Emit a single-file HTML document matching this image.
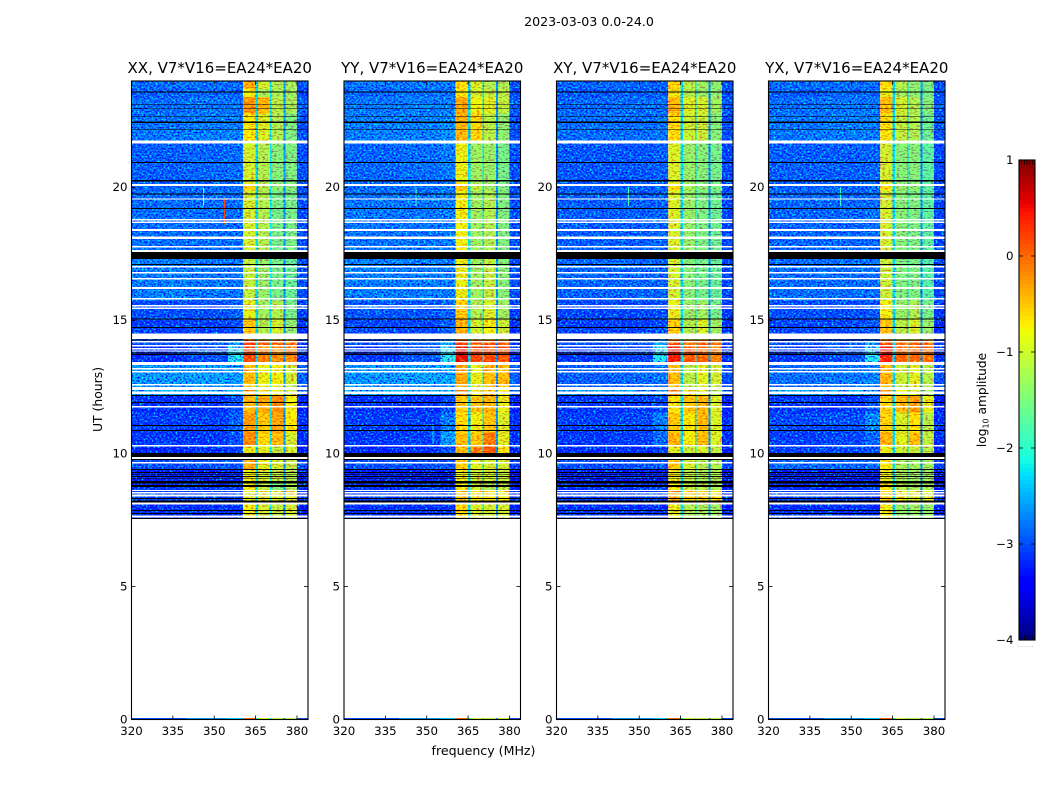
<!DOCTYPE html>
<html lang="en">
<head>
<meta charset="utf-8">
<title>2023-03-03 0.0-24.0</title>
<style>
html,body{margin:0;padding:0;background:#fff;width:1050px;height:800px;overflow:hidden}
svg{display:block}
text{font-family:"DejaVu Sans","Liberation Sans",sans-serif;fill:#000}
</style>
</head>
<body>
<svg id="chart" xmlns="http://www.w3.org/2000/svg" width="1050" height="800" viewBox="0 0 1050 800">
  <defs>
    <filter id="speckle" x="0" y="0" width="100%" height="100%" color-interpolation-filters="sRGB">
      <feTurbulence type="fractalNoise" baseFrequency="0.5 0.62" numOctaves="1" seed="7"/>
      <feColorMatrix type="matrix" values="0 0 0 0 0.5  1.8 0 0 0 -0.45  0 0 0 0 0.78  0 0 0 0 1"/>
    </filter>
    <filter id="speckle-soft" x="0" y="0" width="100%" height="100%" color-interpolation-filters="sRGB">
      <feTurbulence type="fractalNoise" baseFrequency="0.35 0.7" numOctaves="1" seed="11"/>
      <feColorMatrix type="matrix" values="0 0 0 0 0.5  1.1 0 0 0 -0.05  0 0 0 0 0.5  0 0 0 0 1"/>
    </filter>
  </defs>
  <rect width="1050" height="800" fill="#fff"/>
  <text x="589" y="26" font-size="12.6" text-anchor="middle">2023-03-03 0.0-24.0</text>
  <text x="483.5" y="755" font-size="12.6" text-anchor="middle">frequency (MHz)</text>
  <text transform="translate(102,399.5) rotate(-90)" font-size="12.4" text-anchor="middle">UT (hours)</text>
  <text transform="translate(986,400) rotate(-90)" font-size="12.2" text-anchor="middle">log<tspan dy="2.5" font-size="8">10</tspan><tspan dy="-2.5"> amplitude</tspan></text>
  <g id="panels"></g>
  <g id="colorbar"></g>
</svg>
<script>
// Axis tick labels
const freqTicks = [320, 335, 350, 365, 380];
const hourTicks = [0, 5, 10, 15, 20];
const levelTicks = [1, 0, -1, -2, -3, -4];
const panelTitles = ['XX, V7*V16=EA24*EA20', 'YY, V7*V16=EA24*EA20', 'XY, V7*V16=EA24*EA20', 'YX, V7*V16=EA24*EA20'];

// Frequency column edges (MHz)
const freqEdges = [320, 340, 355, 360.5, 365, 365.8, 370.2, 370.8, 375.2, 375.8, 380, 384];
// Time-segment edges (UT hours)
const hourEdges = [24, 23.7, 23.4, 22.77, 21.68, 20.14, 19.88, 17.62, 15.75, 15.07, 14.28, 14.06, 13.42, 12.6, 12.4, 12.18, 11.54, 10.79, 10.3, 10, 9.37, 8.95, 8.61, 8.24, 7.56];
// Levels in the narrow gaps between sub-bands (log10 amplitude)
const gapLevels = [-2.25, -2.2, -2.65];

// log10 amplitude per time segment: [320-340, 340-355, 355-360, band1, band2, band3, band4, 380-384]
const xxLevels = [
[-2.8,-2.8,-2.8,-0.4,-1.0,-1.2,-1.25,-3.0],
[-2.9,-2.85,-2.85,-0.8,-1.25,-1.25,-1.3,-3.0],
[-2.8,-2.75,-2.75,-0.25,-0.45,-1.15,-1.25,-2.9],
[-2.75,-2.7,-2.7,-0.75,-0.95,-1.2,-1.5,-3.0],
[-2.9,-2.85,-2.8,-1.0,-1.2,-1.45,-1.5,-3.0],
[-2.85,-2.8,-2.8,-0.6,-1.15,-1.4,-1.45,-3.0],
[-2.8,-2.8,-2.8,-1.0,-1.2,-1.55,-1.55,-3.0],
[-2.7,-2.75,-2.75,-1.1,-1.35,-1.55,-1.65,-3.0],
[-3.0,-3.0,-2.9,-0.9,-1.3,-1.2,-1.55,-3.1],
[-3.1,-3.1,-3.0,-0.55,-1.2,-1.0,-1.4,-3.2],
[-3.0,-2.9,-2.5,0.25,0.1,0.1,0.0,-3.1],
[-3.2,-3.0,-2.1,0.2,-0.1,-0.2,-0.2,-3.2],
[-2.55,-2.5,-2.5,-0.5,-0.85,-0.8,-1.0,-2.9],
[-2.6,-2.6,-2.6,-0.6,-0.9,-0.9,-1.1,-2.9],
[-2.4,-2.4,-2.4,-0.3,-0.7,-0.8,-1.0,-2.9],
[-3.2,-3.2,-3.0,-0.5,-0.35,-0.2,-0.8,-3.3],
[-3.1,-3.1,-2.9,-0.3,-0.55,-0.35,-0.75,-3.2],
[-3.15,-3.15,-3.0,-0.2,-0.65,-0.5,-1.0,-3.2],
[-3.25,-3.2,-3.1,-0.85,-0.9,-1.1,-1.0,-3.3],
[-3.0,-3.0,-2.95,-0.4,-0.9,-1.0,-1.1,-3.1],
[-3.3,-3.3,-3.3,-0.8,-1.0,-1.1,-1.2,-3.4],
[-3.2,-3.1,-3.1,-0.8,-1.1,-1.5,-1.2,-3.3],
[-3.1,-3.1,-3.1,-0.9,-0.9,-0.9,-0.9,-3.2],
[-3.2,-3.2,-3.2,-0.8,-1.0,-1.1,-1.0,-3.3]
];
const yyLevels = [
[-2.75,-2.75,-2.75,-0.7,-0.95,-1.2,-1.2,-3.0],
[-2.85,-2.8,-2.8,-0.75,-1.0,-1.1,-1.15,-3.0],
[-2.75,-2.7,-2.7,-0.35,-0.8,-0.9,-1.1,-2.9],
[-2.7,-2.7,-2.6,-0.45,-0.65,-1.15,-1.4,-3.0],
[-2.85,-2.8,-2.7,-0.85,-1.3,-1.35,-1.55,-3.0],
[-2.8,-2.8,-2.7,-0.55,-1.1,-1.3,-1.5,-3.0],
[-2.75,-2.75,-2.7,-0.8,-1.3,-1.2,-1.5,-3.0],
[-2.7,-2.7,-2.7,-0.85,-1.3,-1.1,-1.45,-3.0],
[-2.95,-2.95,-2.85,-0.6,-1.2,-0.95,-1.3,-3.1],
[-3.05,-3.05,-2.9,-0.4,-1.0,-0.8,-1.05,-3.2],
[-3.0,-2.85,-2.4,0.35,0.1,0.15,0.1,-3.1],
[-3.15,-2.95,-2.0,0.55,0.25,0.25,0.15,-3.2],
[-2.55,-2.5,-2.45,-0.35,-0.85,-0.5,-0.5,-2.9],
[-2.6,-2.6,-2.6,-0.5,-0.9,-0.6,-0.6,-2.9],
[-2.4,-2.4,-2.4,-0.2,-0.7,-0.6,-0.8,-2.9],
[-3.2,-3.2,-3.05,-0.6,-0.55,-0.45,-0.85,-3.3],
[-3.1,-3.1,-2.7,-0.7,-0.8,-0.55,-0.95,-3.2],
[-3.15,-3.1,-2.5,-0.5,-0.55,-0.1,-0.9,-3.2],
[-3.25,-3.2,-3.0,-0.5,-0.1,0.15,-0.75,-3.3],
[-3.0,-3.0,-2.95,-0.6,-0.9,-1.0,-1.0,-3.1],
[-3.3,-3.3,-3.3,-0.8,-1.0,-1.0,-1.05,-3.4],
[-3.2,-3.1,-3.1,-0.8,-1.0,-1.2,-1.1,-3.3],
[-3.1,-3.1,-3.1,-0.6,-0.7,-0.7,-0.75,-3.2],
[-3.2,-3.2,-3.2,-0.7,-0.95,-1.0,-1.0,-3.3]
];
const xyLevels = [
[-2.85,-2.85,-2.85,-0.65,-1.15,-1.3,-1.4,-3.0],
[-2.95,-2.9,-2.9,-0.8,-1.2,-1.35,-1.4,-3.0],
[-2.85,-2.8,-2.8,-0.45,-0.95,-1.0,-1.3,-2.95],
[-2.8,-2.8,-2.75,-0.7,-1.05,-1.05,-1.45,-3.0],
[-2.95,-2.95,-2.9,-0.95,-1.35,-1.45,-1.55,-3.05],
[-2.9,-2.9,-2.85,-0.7,-1.25,-1.4,-1.5,-3.05],
[-2.9,-2.9,-2.85,-0.95,-1.35,-1.5,-1.6,-3.05],
[-2.85,-2.85,-2.85,-1.0,-1.45,-1.55,-1.65,-3.05],
[-3.05,-3.05,-3.0,-0.85,-1.35,-1.3,-1.55,-3.15],
[-3.1,-3.1,-3.0,-0.6,-1.2,-0.95,-1.3,-3.2],
[-3.0,-2.95,-2.5,0.15,-0.1,0.05,-0.05,-3.1],
[-3.15,-3.05,-2.1,0.5,0.1,0.05,-0.15,-3.2],
[-2.9,-2.85,-2.75,-0.5,-1.15,-0.9,-1.0,-3.0],
[-2.9,-2.9,-2.85,-0.6,-1.1,-0.9,-1.1,-3.0],
[-2.55,-2.55,-2.55,-0.1,-0.7,-0.85,-1.2,-3.0],
[-3.15,-3.15,-3.05,-0.75,-0.55,-0.45,-0.95,-3.3],
[-3.1,-3.05,-2.7,-0.6,-0.75,-0.5,-0.95,-3.2],
[-3.15,-3.1,-2.8,-0.45,-0.8,-0.5,-0.95,-3.2],
[-3.2,-3.2,-3.1,-0.9,-1.05,-0.95,-1.1,-3.3],
[-3.0,-3.0,-2.95,-0.55,-1.0,-1.2,-1.2,-3.1],
[-3.3,-3.3,-3.3,-0.85,-1.1,-1.2,-1.2,-3.4],
[-3.2,-3.15,-3.1,-0.8,-1.05,-1.1,-1.2,-3.3],
[-3.15,-3.15,-3.1,-0.4,-0.65,-0.6,-0.7,-3.2],
[-3.2,-3.2,-3.2,-0.85,-1.2,-1.25,-1.3,-3.3]
];
const yxLevels = [
[-2.8,-2.8,-2.8,-0.7,-1.2,-1.4,-1.5,-3.0],
[-2.9,-2.85,-2.85,-0.85,-1.3,-1.4,-1.55,-3.0],
[-2.8,-2.75,-2.75,-0.5,-1.0,-1.2,-1.45,-2.95],
[-2.75,-2.7,-2.7,-0.75,-1.1,-1.2,-1.6,-3.0],
[-2.9,-2.9,-2.85,-1.0,-1.45,-1.45,-1.7,-3.05],
[-2.85,-2.85,-2.8,-0.75,-1.35,-1.4,-1.7,-3.05],
[-2.85,-2.85,-2.8,-1.0,-1.45,-1.5,-1.7,-3.05],
[-2.8,-2.8,-2.8,-1.05,-1.5,-1.5,-1.75,-3.05],
[-3.0,-3.0,-2.95,-0.8,-1.35,-1.2,-1.55,-3.15],
[-3.05,-3.05,-2.95,-0.55,-1.15,-0.95,-1.35,-3.2],
[-3.0,-2.9,-2.5,0.2,0.0,0.05,0.0,-3.1],
[-3.15,-3.0,-2.05,0.45,0.05,0.0,-0.05,-3.2],
[-2.8,-2.75,-2.65,-0.45,-1.05,-0.9,-1.15,-3.0],
[-2.85,-2.85,-2.8,-0.6,-1.1,-0.95,-1.2,-3.0],
[-2.5,-2.5,-2.5,-0.3,-0.8,-0.9,-1.3,-3.0],
[-3.15,-3.15,-3.0,-0.65,-0.5,-0.3,-0.85,-3.3],
[-3.05,-3.0,-2.6,-0.65,-0.95,-0.7,-1.15,-3.2],
[-3.1,-3.05,-2.85,-0.45,-0.9,-0.5,-1.1,-3.2],
[-3.1,-3.05,-3.0,-0.85,-1.05,-1.05,-1.15,-3.3],
[-2.85,-2.85,-2.85,-0.75,-1.25,-1.3,-1.3,-3.1],
[-3.3,-3.3,-3.3,-0.85,-1.25,-1.3,-1.3,-3.4],
[-3.2,-3.15,-3.1,-0.75,-1.15,-1.25,-1.25,-3.3],
[-3.1,-3.1,-3.1,-0.6,-0.8,-0.85,-0.9,-3.2],
[-3.2,-3.2,-3.2,-0.8,-1.35,-1.3,-1.35,-3.3]
];
const panelLevels = [xxLevels, yyLevels, xyLevels, yxLevels];

// Thin strip of data at UT 0, same column order
const baselineLevels = [-3.0, -2.6, -2.4, 0.0, -1.0, -1.1, -1.1, -3.0];
const baselineHours = [0.05, 0];

// Flagged integrations (UT hours), blank in the image
const blankStart = [21.77,20.12,19.59,18.81,18.71,18.43,18.15,17.79,17.64,17.04,16.82,16.59,16.25,15.84,15.58,15.48,14.5,14.23,14.08,13.96,13.87,13.44,13.21,13.1,12.61,12.5,12.33,11.79,10.32,9.87,9.68,8.63,8.56,8.45,8.15,7.66];
const blankEnd = [21.66,20.06,19.54,18.75,18.67,18.37,18.07,17.74,17.57,16.99,16.76,16.53,16.18,15.78,15.52,15.43,14.31,14.17,14.02,13.91,13.83,13.33,13.16,13.04,12.56,12.39,12.24,11.73,10.27,9.8,9.63,8.58,8.5,8.39,8.09,7.6];
// Zero-amplitude integrations (UT hours), drawn black
const blackStart = [23.61,23.12,22.97,22.67,22.47,22.18,20.95,20.27,19.78,19.22,17.57,17.12,15.07,14.75,14.28,13.8,13.74,12.2,11.94,11.07,10.89,10.02,9.8,9.42,9.31,9.23,9.16,9.08,8.97,8.82,8.33,8.24,7.88,7.77,7.58];
const blackEnd = [23.57,23.09,22.94,22.64,22.43,22.15,20.91,20.23,19.74,19.18,17.3,17.08,15.03,14.71,14.25,13.76,13.7,12.16,11.9,11.04,10.85,9.87,9.76,9.38,9.27,9.2,9.12,9.05,8.88,8.73,8.28,8.16,7.84,7.73,7.54];

// Narrow-band interference spikes: panel index, MHz, start hour, end hour, level
const spikePanel = [0, 0, 1, 1, 2, 3];
const spikeFreq = [346, 353.6, 352, 346, 346, 346];
const spikeStart = [20.0, 19.6, 11.1, 20.0, 20.0, 20.0];
const spikeEnd = [19.3, 18.6, 10.35, 19.3, 19.3, 19.3];
const spikeLevel = [-1.3, 0.2, -2.2, -1.9, -1.8, -2.0];

const panelLefts = [131.5, 344, 556.5, 768.5];
const PANEL_W = 176.5, PANEL_TOP = 81, PANEL_BOTTOM = 719.5;
const NS = 'http://www.w3.org/2000/svg';

function xScale(mhz, left) { return left + (mhz - 320) / 64 * PANEL_W; }
function yScale(hour) { return PANEL_BOTTOM - hour / 24 * (PANEL_BOTTOM - PANEL_TOP); }
function ramp(t, pts) {
  for (let i = 1; i < pts.length; i++) {
    if (t <= pts[i][0]) {
      const a = pts[i - 1], b = pts[i];
      return a[1] + (b[1] - a[1]) * (t - a[0]) / (b[0] - a[0]);
    }
  }
  return pts[pts.length - 1][1];
}
const jetR = [[0,0],[0.35,0],[0.66,1],[0.89,1],[1,0.5]];
const jetG = [[0,0],[0.125,0],[0.375,1],[0.64,1],[0.91,0],[1,0]];
const jetB = [[0,0.5],[0.11,1],[0.34,1],[0.65,0],[1,0]];
function jet(t) {
  t = Math.max(0, Math.min(1, t));
  return 'rgb(' + Math.round(255 * ramp(t, jetR)) + ',' + Math.round(255 * ramp(t, jetG)) + ',' + Math.round(255 * ramp(t, jetB)) + ')';
}
function levelColor(v) { return jet((v + 4) / 5); }
function make(tag, attrs, parent) {
  const el = document.createElementNS(NS, tag);
  for (const k in attrs) el.setAttribute(k, attrs[k]);
  parent.appendChild(el);
  return el;
}
function columnLevels(row) {
  return [row[0], row[1], row[2], row[3], gapLevels[0], row[4], gapLevels[1], row[5], gapLevels[2], row[6], row[7]];
}

const panelsRoot = document.getElementById('panels');
panelTitles.forEach(function (title, p) {
  const left = panelLefts[p];
  const g = make('g', {}, panelsRoot);
  
  

  const heat = make('g', { 'shape-rendering': 'crispEdges' }, g);
  
  

  function drawRow(levels, hi, lo) {
    columnLevels(levels).forEach(function (v, c) {
      const x0 = xScale(freqEdges[c], left), x1 = xScale(freqEdges[c + 1], left);
      const y0 = yScale(hi), y1 = yScale(lo);
      const cell = make('rect', { x: x0, y: y0, width: x1 - x0, height: y1 - y0, fill: levelColor(v) }, heat);
      
      
    });
  }
  panelLevels[p].forEach(function (row, r) { drawRow(row, hourEdges[r], hourEdges[r + 1]); });
  drawRow(baselineLevels, baselineHours[0], baselineHours[1]);

  // Channel-to-channel speckle texture laid over the blocks
  const dataTop = yScale(hourEdges[0]);
  const dataHeight = yScale(hourEdges[hourEdges.length - 1]) - dataTop;
  function addTexture(f0, f1, filterId) {
    const x0 = xScale(f0, left), x1 = xScale(f1, left);
    const texture = make('rect', { x: x0, y: dataTop, width: x1 - x0, height: dataHeight, fill: '#000', filter: 'url(#' + filterId + ')', style: 'mix-blend-mode:hard-light' }, heat);
    
    
  }
  addTexture(freqEdges[0], freqEdges[3], 'speckle');
  addTexture(freqEdges[3], freqEdges[10], 'speckle-soft');
  addTexture(freqEdges[10], freqEdges[11], 'speckle');

  spikePanel.forEach(function (sp, i) {
    if (sp !== p) return;
    const spike = make('rect', { x: xScale(spikeFreq[i], left), y: yScale(spikeStart[i]), width: 1, height: yScale(spikeEnd[i]) - yScale(spikeStart[i]), fill: levelColor(spikeLevel[i]) }, heat);
    
    
  });

  blankStart.forEach(function (h, i) {
    const band = make('rect', { x: left, y: yScale(h), width: PANEL_W, height: yScale(blankEnd[i]) - yScale(h), fill: '#fff' }, heat);
    
    
  });
  blackStart.forEach(function (h, i) {
    const band = make('rect', { x: left, y: yScale(h), width: PANEL_W, height: yScale(blackEnd[i]) - yScale(h), fill: '#000' }, heat);
    
    
  });

  const frame = make('rect', { x: left, y: PANEL_TOP, width: PANEL_W, height: PANEL_BOTTOM - PANEL_TOP, fill: 'none', stroke: '#000', 'stroke-width': 1.1 }, g);
  
  

  const heading = make('text', { x: left + PANEL_W / 2, y: 73, 'font-size': 15, 'text-anchor': 'middle' }, g);
  heading.textContent = title;
  
  

  freqTicks.forEach(function (f) {
    const x = xScale(f, left);
    const tickB = make('line', { x1: x, x2: x, y1: PANEL_BOTTOM, y2: PANEL_BOTTOM - 4, stroke: '#000', 'stroke-width': 0.8 }, g);
    
    
    const tickT = make('line', { x1: x, x2: x, y1: PANEL_TOP, y2: PANEL_TOP + 4, stroke: '#000', 'stroke-width': 0.8 }, g);
    
    
    const label = make('text', { x: x, y: 735, 'font-size': 11.8, 'text-anchor': 'middle' }, g);
    label.textContent = String(f);
    
    
  });
  hourTicks.forEach(function (h) {
    const y = yScale(h);
    const tickL = make('line', { x1: left, x2: left + 4, y1: y, y2: y, stroke: '#000', 'stroke-width': 0.8 }, g);
    
    
    const tickR = make('line', { x1: left + PANEL_W, x2: left + PANEL_W - 4, y1: y, y2: y, stroke: '#000', 'stroke-width': 0.8 }, g);
    
    
    const label = make('text', { x: left - 4, y: y + 3.8, 'font-size': 11.8, 'text-anchor': 'end' }, g);
    label.textContent = String(h);
    
    
  });
});

// Colorbar
const CB_X = 1019, CB_W = 16, CB_TOP = 160, CB_BOTTOM = 640;
function cbY(v) { return CB_BOTTOM - (v + 4) / 5 * (CB_BOTTOM - CB_TOP); }
const cb = document.getElementById('colorbar');
const steps = 120;
for (let i = 0; i < steps; i++) {
  const y0 = CB_TOP + (CB_BOTTOM - CB_TOP) * i / steps;
  const strip = make('rect', { x: CB_X, y: y0, width: CB_W, height: (CB_BOTTOM - CB_TOP) / steps + 0.5, fill: jet(1 - (i + 0.5) / steps), 'shape-rendering': 'crispEdges' }, cb);
  
  
}
const cbFrame = make('rect', { x: CB_X, y: CB_TOP, width: CB_W, height: CB_BOTTOM - CB_TOP, fill: 'none', stroke: '#000', 'stroke-width': 1.1 }, cb);


levelTicks.forEach(function (v) {
  const y = cbY(v);
  [[CB_X, CB_X + 4], [CB_X + CB_W, CB_X + CB_W - 4]].forEach(function (pair) {
    const t = make('line', { x1: pair[0], x2: pair[1], y1: y, y2: y, stroke: '#000', 'stroke-width': 0.8 }, cb);
    
    
  });
  const label = make('text', { x: 1013.5, y: y + 4, 'font-size': 11.8, 'text-anchor': 'end' }, cb);
  label.textContent = v < 0 ? '\u2212' + Math.abs(v) : String(v);
  
  
});
const cbMinorTicks = [1, 2, 3, 4, 5];
cbMinorTicks.forEach(function (n) {
  const x = CB_X + n * CB_W / 6;
  const top = make('line', { x1: x, x2: x, y1: CB_TOP, y2: CB_TOP + 5, stroke: '#000', 'stroke-width': 0.7 }, cb);
  
  
  const bottom = make('line', { x1: x, x2: x, y1: CB_BOTTOM, y2: CB_BOTTOM - 5, stroke: '#000', 'stroke-width': 0.7 }, cb);
  
  
});
const dots = make('text', { x: 1026, y: 647, 'font-size': 6, 'text-anchor': 'middle', style: 'fill:#888;letter-spacing:1px' }, cb);
dots.textContent = '......';


</script>
</body>
</html>
